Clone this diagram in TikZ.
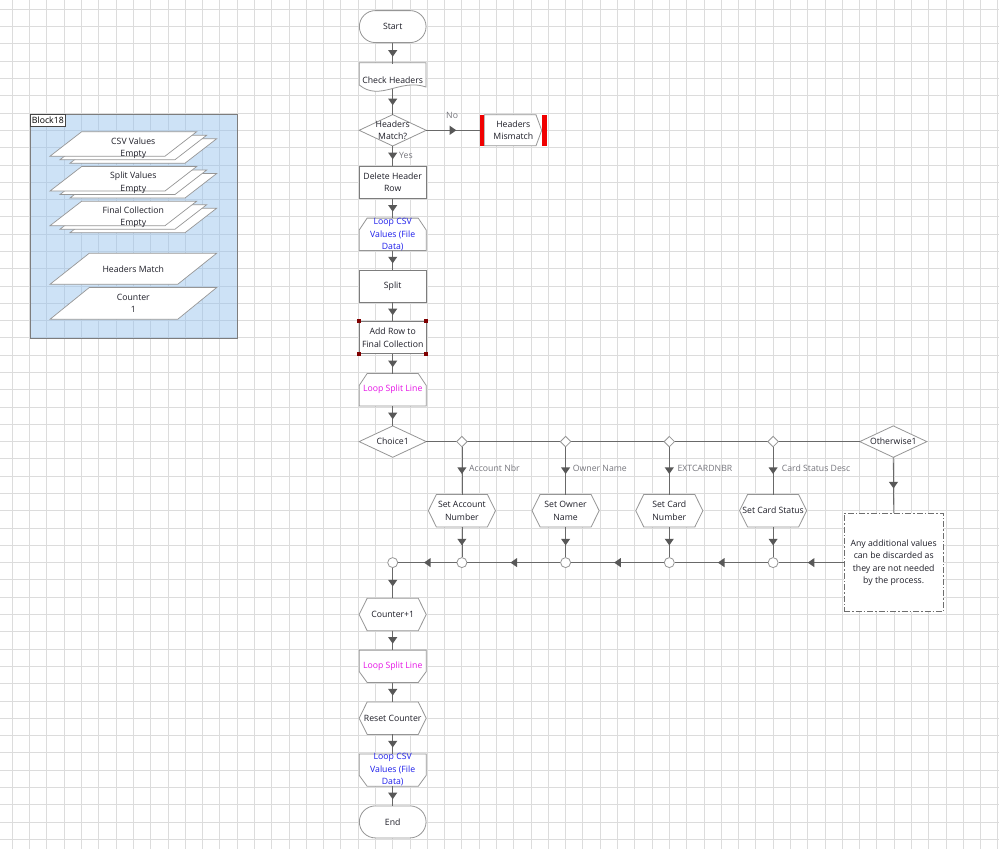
\documentclass[tikz,border=0pt]{standalone}
\usepackage{fontspec}
\setmainfont{Open Sans}
\usetikzlibrary{decorations.markings}
\pgfdeclarelayer{gridl}
\pgfdeclarelayer{bgl}
\pgfsetlayers{gridl,bgl,main}
\definecolor{gridc}{RGB}{220,220,220}
\definecolor{bgridc}{RGB}{186,207,228}
\definecolor{blockfill}{RGB}{205,226,246}
\definecolor{shpc}{RGB}{150,150,150}
\definecolor{boxc}{RGB}{125,125,125}
\definecolor{linec}{RGB}{105,105,105}
\definecolor{arrc}{RGB}{88,88,88}
\definecolor{txtc}{RGB}{30,30,40}
\definecolor{lblc}{RGB}{118,118,125}
\definecolor{loopblue}{RGB}{30,30,235}
\definecolor{loopmag}{RGB}{230,20,230}
\definecolor{handc}{RGB}{128,0,0}
\definecolor{notec}{RGB}{110,110,110}
\definecolor{titc}{RGB}{70,70,70}
\definecolor{barred}{RGB}{240,0,0}
\newcommand\hexof[1]{\begin{pgfonlayer}{bgl}\draw[shp] (#1.west) -- ([xshift=8pt]#1.north west) -- ([xshift=-8pt]#1.north east) -- (#1.east) -- ([xshift=-8pt]#1.south east) -- ([xshift=8pt]#1.south west) -- cycle;\end{pgfonlayer}}
\newcommand\diaof[1]{\begin{pgfonlayer}{bgl}\draw[shp] (#1.west) -- (#1.north) -- (#1.east) -- (#1.south) -- cycle;\end{pgfonlayer}}
\newcommand\sdiaof[1]{\draw[shp] (#1.west) -- (#1.north) -- (#1.east) -- (#1.south) -- cycle;}
\newcommand\loopsof[1]{\begin{pgfonlayer}{bgl}\draw[shp] (#1.south west) -- ([yshift=-12pt]#1.north west) -- ([xshift=8pt]#1.north west) -- ([xshift=-8pt]#1.north east) -- ([yshift=-12pt]#1.north east) -- (#1.south east) -- cycle;\end{pgfonlayer}}
\newcommand\loopeof[1]{\begin{pgfonlayer}{bgl}\draw[shp] (#1.north west) -- (#1.north east) -- ([yshift=11pt]#1.south east) -- ([xshift=-8pt]#1.south east) -- ([xshift=8pt]#1.south west) -- ([yshift=11pt]#1.south west) -- cycle;\end{pgfonlayer}}
\begin{document}
\begin{tikzpicture}[x=1pt,y=-1pt,
  nf/.style={font=\fontsize{8.7pt}{12.4pt}\selectfont},
  txt/.style={nf, text=txtc, align=center, inner sep=0pt, minimum width=66.7pt, minimum height=32pt},
  term/.style={txt, draw=shpc, fill=white, rounded corners=16pt, line width=0.8pt},
  rbox/.style={txt, draw=boxc, fill=white, line width=0.8pt},
  shp/.style={draw=shpc, fill=white, line width=0.8pt},
  parshp/.style={draw=shpc, fill=white, line width=0.7pt},
  lbl/.style={nf, text=lblc, inner sep=0pt, anchor=west},
  btxt/.style={nf, text=txtc, align=center, inner sep=0pt},
  conn/.style={draw=linec, line width=0.8pt, postaction={decorate, decoration={markings, mark=at position 0.5 with {\fill[arrc] (3.3pt,0pt) -- (-3.3pt,4.6pt) -- (-3.3pt,-4.6pt) -- cycle;}}}},
  plain/.style={draw=linec, line width=0.8pt},
  joinc/.style={circle, draw=shpc, fill=white, minimum size=10pt, inner sep=0pt, line width=0.8pt},
  sdia/.style={inner sep=0pt, minimum size=10pt},
  notebox/.style={txt, draw=notec, fill=white, line width=0.8pt, dash pattern=on 6pt off 2pt on 1.5pt off 2pt, minimum width=99.3pt, minimum height=98.4pt},
  gridline/.style={draw=gridc, line width=0.8pt},
  bgridline/.style={draw=bgridc, line width=0.8pt}
]
\useasboundingbox (0,0) rectangle (999,849);
\begin{pgfonlayer}{gridl}
\fill[white] (0,0) rectangle (999,849);
\foreach \i in {0,...,57} \draw[gridline] ({12.3+17.29*\i},0) -- ({12.3+17.29*\i},849);
\foreach \j in {0,...,48} \draw[gridline] (0,{9.3+17.29*\j}) -- (999,{9.3+17.29*\j});
% block background
\fill[blockfill] (30,114) rectangle (237.7,338.3);
\begin{scope}
\clip (30,114) rectangle (237.7,338.3);
\foreach \i in {0,...,14} \draw[bgridline] ({12.3+17.29*\i},100) -- ({12.3+17.29*\i},350);
\foreach \j in {6,...,20} \draw[bgridline] (20,{9.3+17.29*\j}) -- (250,{9.3+17.29*\j});
\end{scope}
\draw[draw=boxc, line width=0.9pt] (30,114) rectangle (237.7,338.3);
\end{pgfonlayer}

% ---------- block contents
\node[nf, text=black, draw=titc, fill=white, line width=0.8pt, inner sep=0pt, minimum width=35.7pt, minimum height=12.5pt] (btitle) at (47.85,120.25) {Block18};
\begin{pgfonlayer}{bgl}
\foreach \T in {131.7,166.5,201.2}{
  \foreach \o in {20,10,0}{
    \draw[parshp] ({81.7+\o},{\T+0.35*\o}) -- ({196.7+\o},{\T+0.35*\o}) -- ({165+\o},{\T+24.5+0.35*\o}) -- ({50+\o},{\T+24.5+0.35*\o}) -- cycle;
  }
}
\draw[parshp] (89.3,253.2) -- (216.7,253.2) -- (177.7,284.3) -- (50,284.3) -- cycle;
\draw[parshp] (89.3,287.5) -- (216.7,287.5) -- (177.7,319.3) -- (50,319.3) -- cycle;
\end{pgfonlayer}
\node[btxt] (csvv) at (133.3,148) {CSV Values\\Empty};
\node[btxt] (splitv) at (133.3,182.7) {Split Values\\Empty};
\node[btxt] (finalc) at (133.3,217) {Final Collection\\Empty};
\node[btxt] (hmatch) at (133.3,269) {Headers Match};
\node[btxt] (counterv) at (133.3,303.5) {Counter\\1};

% ---------- main column
\node[term] (start) at (392.7,26.6) {Start};
\node[txt] (check) at (392.7,80) {Check Headers};
\begin{pgfonlayer}{bgl}
\draw[shp] (359.3,62.7) -- (426,62.7) -- (426,87) .. controls (400,78) and (380,102) .. (359.3,85) -- cycle;
\end{pgfonlayer}
\node[txt, minimum height=31pt] (hm) at (392.7,130.3) {Headers\\Match?};
\diaof{hm}
\node[txt, minimum height=31pt] (mis) at (513.3,130.3) {Headers\\Mismatch};
\begin{pgfonlayer}{bgl}
\draw[shp] (484.3,114.8) -- (536,114.8) -- (541.7,130.3) -- (536,145.8) -- (484.3,145.8) -- cycle;
\fill[barred] (480,114.8) rectangle (484.3,145.8);
\fill[barred] (542.3,114.8) rectangle (546.7,145.8);
\end{pgfonlayer}
\node[rbox] (del) at (392.7,182.2) {Delete Header\\Row};
\node[txt] (lcsv) at (392.7,234.3) {};
\loopsof{lcsv}
\node[btxt, text=loopblue] (lcsvt) at (392.7,234.6) {Loop CSV\\Values (File\\Data)};
\node[rbox] (split) at (392.7,286) {Split};
\node[rbox] (addrow) at (392.7,337.8) {Add Row to\\Final Collection};
\foreach \a in {north west, north east, south west, south east}
  \fill[handc] ([shift={(-2pt,-2pt)}]addrow.\a) rectangle ++(4pt,4pt);
\node[txt, text=loopmag] (lsplit) at (392.7,389.7) {Loop Split Line};
\loopsof{lsplit}
\node[txt, minimum height=31pt] (choice) at (392.7,441.6) {Choice1};
\diaof{choice}
\node[txt, minimum height=31pt] (oth) at (893.3,441.6) {Otherwise1};
\diaof{oth}
\node[sdia] (d1) at (461.9,441.6) {};
\node[sdia] (d2) at (565.6,441.6) {};
\node[sdia] (d3) at (669.3,441.6) {};
\node[sdia] (d4) at (773.1,441.6) {};
\node[txt] (sacc) at (461.9,510.7) {Set Account\\Number};
\hexof{sacc}
\node[txt] (sown) at (565.6,510.7) {Set Owner\\Name};
\hexof{sown}
\node[txt] (scard) at (669.3,510.7) {Set Card\\Number};
\hexof{scard}
\node[txt] (sstat) at (773.1,510.7) {Set Card Status};
\hexof{sstat}
\node[joinc] (c0) at (392.7,562.6) {};
\node[joinc] (c1) at (461.9,562.6) {};
\node[joinc] (c2) at (565.6,562.6) {};
\node[joinc] (c3) at (669.3,562.6) {};
\node[joinc] (c4) at (773.1,562.6) {};
\node[notebox] (note) at (893.7,562.6) {Any additional values\\can be discarded as\\they are not needed\\by the process.};
\node[txt] (cnt) at (392.7,614.5) {Counter+1};
\hexof{cnt}
\node[txt, text=loopmag] (lsend) at (392.7,666.3) {Loop Split Line};
\loopeof{lsend}
\node[txt] (reset) at (392.7,718.2) {Reset Counter};
\hexof{reset}
\node[txt] (lcend) at (392.7,770.1) {};
\loopeof{lcend}
\node[btxt, text=loopblue] (lcendt) at (392.7,769.6) {Loop CSV\\Values (File\\Data)};
\node[term] (finish) at (392.7,821.9) {End};

% ---------- labels
\node[lbl] (lno) at (446,115.5) {No};
\node[lbl] (lyes) at (399,155.8) {Yes};
\node[lbl] (l1) at (469,468.5) {Account Nbr};
\node[lbl] (l2) at (572.7,468.5) {Owner Name};
\node[lbl] (l3) at (677.3,468.5) {EXTCARDNBR};
\node[lbl] (l4) at (781.7,468.5) {Card Status Desc};

% ---------- connectors
\draw[conn] (start.south) -- (check.north);
\draw[conn] ([yshift=7pt]check.south) -- (hm.north);
\draw[conn] (hm.east) -- (mis.west);
\draw[conn] (hm.south) -- (del.north);
\draw[conn] (del.south) -- (lcsv.north);
\draw[conn] (lcsv.south) -- (split.north);
\draw[conn] (split.south) -- (addrow.north);
\draw[conn] (addrow.south) -- (lsplit.north);
\draw[conn] (lsplit.south) -- (choice.north);
\draw[plain] (choice.east) -- (oth.west);
\sdiaof{d1}
\sdiaof{d2}
\sdiaof{d3}
\sdiaof{d4}
\draw[conn] (d1.south) -- (sacc.north);
\draw[conn] (d2.south) -- (sown.north);
\draw[conn] (d3.south) -- (scard.north);
\draw[conn] (d4.south) -- (sstat.north);
\draw[conn] (sacc.south) -- (c1.north);
\draw[conn] (sown.south) -- (c2.north);
\draw[conn] (scard.south) -- (c3.north);
\draw[conn] (sstat.south) -- (c4.north);
\draw[conn] (oth.south) -- (note.north);
\draw[conn] (note.west) -- (c4.east);
\draw[conn] (c4.west) -- (c3.east);
\draw[conn] (c3.west) -- (c2.east);
\draw[conn] (c2.west) -- (c1.east);
\draw[conn] (c1.west) -- (c0.east);
\draw[conn] (c0.south) -- (cnt.north);
\draw[conn] (cnt.south) -- (lsend.north);
\draw[conn] (lsend.south) -- (reset.north);
\draw[conn] (reset.south) -- (lcend.north);
\draw[conn] (lcend.south) -- (finish.north);
\end{tikzpicture}
\end{document}
